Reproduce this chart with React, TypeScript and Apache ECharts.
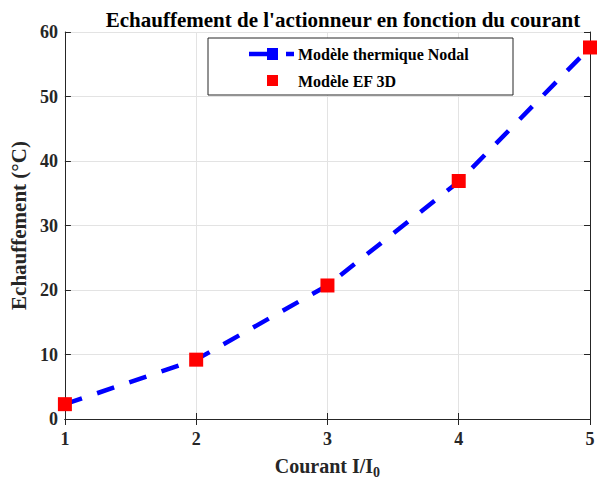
import React, { useEffect, useRef } from "react";
import * as echarts from "echarts";

const current = [1, 2, 3, 4, 5];
const nodalValues = [2.3, 9.2, 20.7, 36.8, 57.6];
const efValues = [2.3, 9.2, 20.7, 36.9, 57.6];
const yTicks = [0, 10, 20, 30, 40, 50, 60];

const FONT = "'Liberation Serif', 'Times New Roman', serif";

export default function App() {
  const ref = useRef<HTMLDivElement>(null);
  useEffect(() => {
    if (!ref.current) return;
    const chart = echarts.init(ref.current, undefined, { renderer: "svg" });
    const axisCommon = {
      type: "value",
      axisLine: { show: true, lineStyle: { color: "#262626", width: 1 } },
      axisTick: { show: true, inside: true, length: 6, lineStyle: { color: "#262626" } },
    };
    chart.setOption({
      animation: false,
      backgroundColor: "#ffffff",
      textStyle: { fontFamily: FONT },
      title: {
        text: "Echauffement de l'actionneur en fonction du courant",
        left: 338,
        textAlign: "center",
        top: 4,
        textStyle: { fontFamily: FONT, fontSize: 21, fontWeight: "bold", color: "#000" },
      },
      grid: { left: 64, right: 13, top: 32, bottom: 63, containLabel: false },
      xAxis: [
        {
          ...axisCommon,
          min: 1,
          max: 5,
          interval: 1,
          position: "bottom",
          name: "{m|Courant I/I}{s|0}",
          nameLocation: "middle",
          nameGap: 34,
          nameTextStyle: {
            rich: {
              m: { fontFamily: FONT, fontSize: 20, fontWeight: "bold", color: "#262626" },
              s: { fontFamily: FONT, fontSize: 14, fontWeight: "bold", color: "#262626", padding: [12, 0, 0, 0] },
            },
          },
          axisLabel: { fontFamily: FONT, fontSize: 18, fontWeight: "bold", color: "#262626", margin: 11 },
          splitLine: { show: true, lineStyle: { color: "#e3e3e3", width: 1 } },
        },
        {
          ...axisCommon,
          min: 1,
          max: 5,
          interval: 1,
          position: "top",
          axisLabel: { show: false },
          splitLine: { show: false },
        },
      ],
      yAxis: [
        {
          ...axisCommon,
          min: 0,
          max: 60,
          interval: 10,
          position: "left",
          name: "Echauffement (°C)",
          nameLocation: "middle",
          nameGap: 29,
          nameTextStyle: { fontFamily: FONT, fontSize: 21, fontWeight: "bold", color: "#262626" },
          axisLabel: {
            fontFamily: FONT,
            fontSize: 18,
            fontWeight: "bold",
            color: "#262626",
            margin: 7,
            formatter: (v: number) => (yTicks.includes(v) ? String(v) : ""),
          },
          splitLine: { show: true, lineStyle: { color: "#e3e3e3", width: 1 } },
        },
        {
          ...axisCommon,
          min: 0,
          max: 60,
          interval: 10,
          position: "right",
          axisLabel: { show: false },
          splitLine: { show: false },
        },
      ],
      series: [
        {
          name: "Modèle thermique Nodal",
          type: "line",
          data: current.map((x, i) => [x, nodalValues[i]]),
          symbol: "rect",
          symbolSize: 11,
          itemStyle: { color: "#0000ff" },
          lineStyle: { color: "#0000ff", width: 4.5, type: [18, 16], cap: "butt" },
          z: 3,
        },
        {
          name: "Modèle EF 3D",
          type: "scatter",
          data: current.map((x, i) => [x, efValues[i]]),
          symbol: "rect",
          symbolSize: 14,
          itemStyle: { color: "#ff0000", opacity: 1 },
          z: 4,
        },
      ],
      graphic: [
        {
          type: "rect",
          shape: { x: 208, y: 38, width: 305, height: 57 },
          style: { fill: "#ffffff", stroke: "#262626", lineWidth: 1 },
          z: 10,
        },
        {
          type: "line",
          shape: { x1: 249, y1: 54, x2: 272, y2: 54 },
          style: { stroke: "#0000ff", lineWidth: 4.5 },
          z: 11,
        },
        {
          type: "rect",
          shape: { x: 267, y: 48, width: 11, height: 12 },
          style: { fill: "#0000ff" },
          z: 11,
        },
        {
          type: "line",
          shape: { x1: 286, y1: 54, x2: 294, y2: 54 },
          style: { stroke: "#0000ff", lineWidth: 4.5 },
          z: 11,
        },
        {
          type: "text",
          x: 298,
          y: 54,
          style: {
            text: "Modèle thermique Nodal",
            fontFamily: FONT,
            fontSize: 16,
            fontWeight: "bold",
            fill: "#000",
            verticalAlign: "middle",
          },
          z: 11,
        },
        {
          type: "rect",
          shape: { x: 267, y: 75, width: 11, height: 11 },
          style: { fill: "#ff0000" },
          z: 11,
        },
        {
          type: "text",
          x: 298,
          y: 81,
          style: {
            text: "Modèle EF 3D",
            fontFamily: FONT,
            fontSize: 16,
            fontWeight: "bold",
            fill: "#000",
            verticalAlign: "middle",
          },
          z: 11,
        },
      ],
    });
    return () => chart.dispose();
  }, []);
  return (
    <div
      ref={ref}
      style={{ position: "absolute", left: 0, top: 0, width: 603, height: 484 }}
    />
  );
}
